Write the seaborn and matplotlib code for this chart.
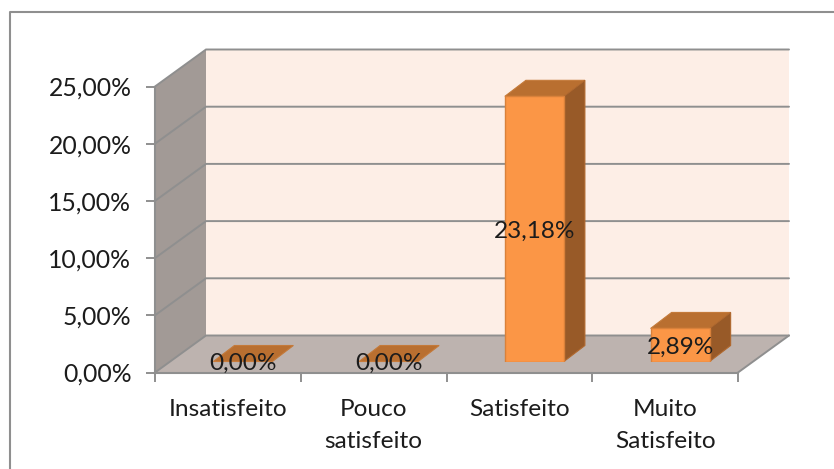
import matplotlib
matplotlib.use("Agg")
import matplotlib.pyplot as plt
import seaborn as sns
from matplotlib.lines import Line2D
from matplotlib.patches import Polygon

categories = ["Insatisfeito", "Pouco\nsatisfeito", "Satisfeito", "Muito\nSatisfeito"]
values = [0.0, 0.0, 23.18, 2.89]
value_labels = ["0,00%", "0,00%", "23,18%", "2,89%"]
y_ticks = [0, 5, 10, 15, 20, 25]
y_tick_labels = ["0,00%", "5,00%", "10,00%", "15,00%", "20,00%", "25,00%"]

W, H = 834, 469
GREY = "#8f8f8f"
TEXT = "#1c1c1c"

sns.set_theme(style="white")
plt.rcParams["font.family"] = ["Lato", "DejaVu Sans"]

fig = plt.figure(figsize=(W / 100, H / 100), dpi=100)
fig.patch.set_facecolor("white")

# outer chart frame
fig.add_artist(Line2D([9.5 / W, 9.5 / W, 1], [0, 1 - 12.5 / H, 1 - 12.5 / H], color=GREY, lw=1.5))

# front plane of the fake 3d box, in pixels
left, right, base, top = 155, 738, 372.5, 86.5
ax = fig.add_axes([left / W, 1 - base / H, (right - left) / W, (base - top) / H])
ax.set_xlim(-0.5, 3.5)
ax.set_ylim(0, 25)
ax.patch.set_visible(False)
px_x = (right - left) / 4
px_y = (base - top) / 25

# box depth in data units
dx = 51 / px_x
dy = 37 / px_y

ax.add_patch(Polygon([(-0.5 + dx, dy), (3.5 + dx, dy), (3.5 + dx, 25 + dy), (-0.5 + dx, 25 + dy)],
                     fc="#fdeee6", ec="none", clip_on=False, zorder=1))
ax.add_patch(Polygon([(-0.5, 0), (-0.5 + dx, dy), (-0.5 + dx, 25 + dy), (-0.5, 25)],
                     fc="#a29a96", ec="none", clip_on=False, zorder=1))
ax.add_patch(Polygon([(-0.5, 0), (3.5, 0), (3.5 + dx, dy), (-0.5 + dx, dy)],
                     fc="#bdb3af", ec="none", clip_on=False, zorder=1))

# gridlines run along the left wall and the back wall
for t in y_ticks:
    ax.plot([-0.5, -0.5 + dx, 3.5 + dx], [t, t + dy, t + dy], color=GREY, lw=1.4,
            clip_on=False, zorder=2, solid_joinstyle="miter")
ax.plot([3.5, 3.5 + dx], [0, dy], color=GREY, lw=1.4, clip_on=False, zorder=2)

for side in ["top", "right"]:
    ax.spines[side].set_visible(False)
for side in ["left", "bottom"]:
    ax.spines[side].set_color(GREY)
    ax.spines[side].set_linewidth(1.5)
    ax.spines[side].set_zorder(3)

ax.set_yticks(y_ticks)
ax.set_yticklabels(y_tick_labels, fontsize=17.8, color=TEXT)
ax.set_xticks([-0.5, 0.5, 1.5, 2.5, 3.5])
ax.set_xticklabels([])
ax.set_xticks([0, 1, 2, 3], labels=categories, minor=True, fontsize=17.6, color=TEXT, linespacing=1.65)
ax.tick_params(axis="y", which="major", left=True, length=6.5, width=1.4, color=GREY, pad=10.5)
ax.tick_params(axis="x", which="major", bottom=True, length=6.5, width=1.4, color=GREY)
ax.tick_params(axis="x", which="minor", bottom=False, length=0, pad=19)

# bars sit inside the box, so their axes are shifted in and up
shift_x, shift_y = 15, 11
bar_ax = fig.add_axes([(left + shift_x) / W, 1 - (base - shift_y) / H, (right - left) / W, (base - top) / H])
bar_ax.patch.set_visible(False)
sns.barplot(x=categories, y=values, ax=bar_ax, color="#fb9646", saturation=1, width=0.405,
            edgecolor="#d9813a", linewidth=1, zorder=4)
bar_ax.set_xlim(-0.5, 3.5)
bar_ax.set_ylim(0, 25)
bar_ax.axis("off")

bar_dx = 21 / px_x
bar_dy = 16 / px_y
for bar in bar_ax.patches:
    x0, x1 = bar.get_x(), bar.get_x() + bar.get_width()
    h = bar.get_height()
    bar_ax.add_patch(Polygon([(x0, h), (x1, h), (x1 + bar_dx, h + bar_dy), (x0 + bar_dx, h + bar_dy)],
                             fc="#b96f30", ec="#c47a3a", lw=0.8, clip_on=False, zorder=3))
    if h > 0:
        bar_ax.add_patch(Polygon([(x1, 0), (x1 + bar_dx, bar_dy), (x1 + bar_dx, h + bar_dy), (x1, h)],
                                 fc="#985a28", ec="#b0682e", lw=0.8, clip_on=False, zorder=3))

bar_ax.bar_label(bar_ax.containers[0], labels=value_labels, label_type="center", padding=-1.5,
                 fontsize=17.6, color=TEXT, zorder=6)

fig.savefig("out.png", dpi=100)
